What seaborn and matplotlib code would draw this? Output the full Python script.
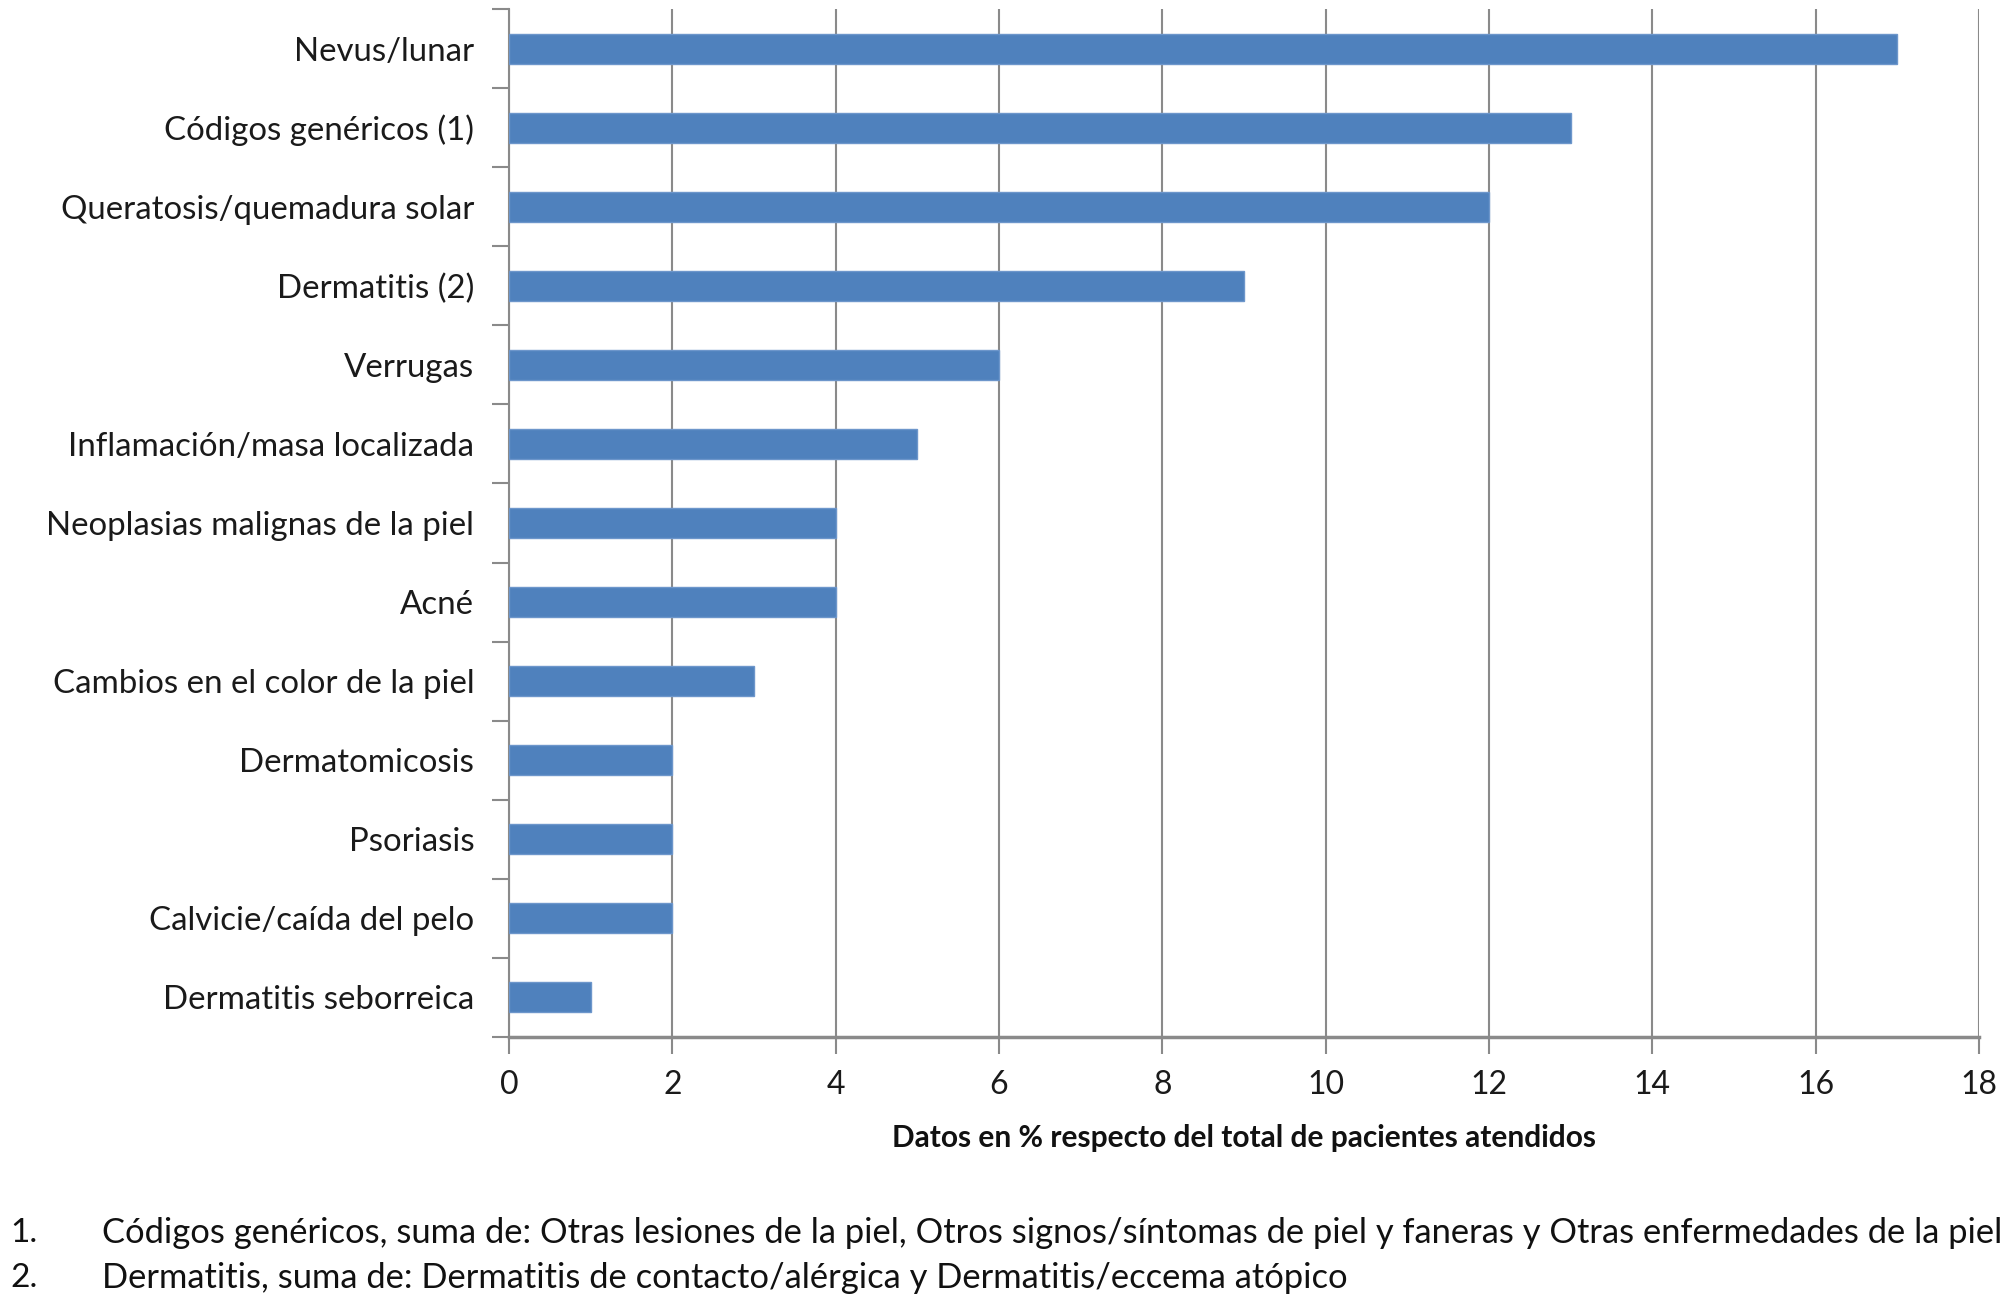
import matplotlib
matplotlib.use("Agg")
import matplotlib.pyplot as plt
import seaborn as sns
import pandas as pd
import numpy as np

categories = [
    "Nevus/lunar",
    "Códigos genéricos (1)",
    "Queratosis/quemadura solar",
    "Dermatitis (2)",
    "Verrugas",
    "Inflamación/masa localizada",
    "Neoplasias malignas de la piel",
    "Acné",
    "Cambios en el color de la piel",
    "Dermatomicosis",
    "Psoriasis",
    "Calvicie/caída del pelo",
    "Dermatitis seborreica",
]
values = [17, 13, 12, 9, 6, 5, 4, 4, 3, 2, 2, 2, 1]
x_ticks = [0, 2, 4, 6, 8, 10, 12, 14, 16, 18]
x_label = "Datos en % respecto del total de pacientes atendidos"
footnotes = [
    ("1.", "Códigos genéricos, suma de: Otras lesiones de la piel, Otros signos/síntomas de piel y faneras y Otras enfermedades de la piel"),
    ("2.", "Dermatitis, suma de: Dermatitis de contacto/alérgica y Dermatitis/eccema atópico"),
]

sns.set_theme(style="white")
plt.rcParams["font.family"] = ["Lato", "DejaVu Sans"]

df = pd.DataFrame({"cat": categories, "val": values})

fig = plt.figure(figsize=(20.08, 13.04), dpi=100)
ax = fig.add_axes([509 / 2008, 1 - 1037 / 1304, (1979 - 509) / 2008, (1037 - 9) / 1304])

sns.barplot(data=df, y="cat", x="val", orient="h", color="#4F81BD", saturation=1,
            width=0.38, edgecolor="#6D96CB", linewidth=1, ax=ax, zorder=3)

ax.set_xlim(0, 18)
ax.set_ylim(len(categories) - 0.5, -0.5)
ax.set_xticks(x_ticks)
ax.set_xticklabels([str(t) for t in x_ticks], fontsize=23, color="#1a1a1a")
ax.tick_params(axis="x", direction="out", length=12, width=1.5, color="#8a8a8a", pad=12, bottom=True)

# y ticks between categories (Excel style) with labels at centers
ax.set_yticks(np.arange(len(categories)))
ax.set_yticklabels(categories, fontsize=23.8, color="#1a1a1a")
ax.tick_params(axis="y", which="major", length=0, pad=25)
ax.set_yticks(np.arange(-0.5, len(categories) + 0.5, 1), minor=True)
ax.tick_params(axis="y", which="minor", direction="out", length=12, width=1.5, color="#8a8a8a", left=True)

ax.grid(axis="x", color="#8a8a8a", linewidth=1.5, zorder=0)
ax.grid(axis="y", visible=False)
for s in ["top", "right"]:
    ax.spines[s].set_visible(False)
for s in ["left", "bottom"]:
    ax.spines[s].set_color("#8a8a8a")
    ax.spines[s].set_linewidth(1.5)
ax.spines["bottom"].set_linewidth(2.5)

ax.set_ylabel("")
ax.set_xlabel(x_label, fontsize=21.5, fontweight="bold", color="#111111", labelpad=17)

for i, (num, txt) in enumerate(footnotes):
    y = 1 - (1233 + i * 45) / 1304
    fig.text(10 / 2008, y, num, fontsize=24, va="center", ha="left", color="#111111")
    fig.text(102 / 2008, y, txt, fontsize=24.8, va="center", ha="left", color="#111111")

fig.savefig("out.png", dpi=100, facecolor="white")
